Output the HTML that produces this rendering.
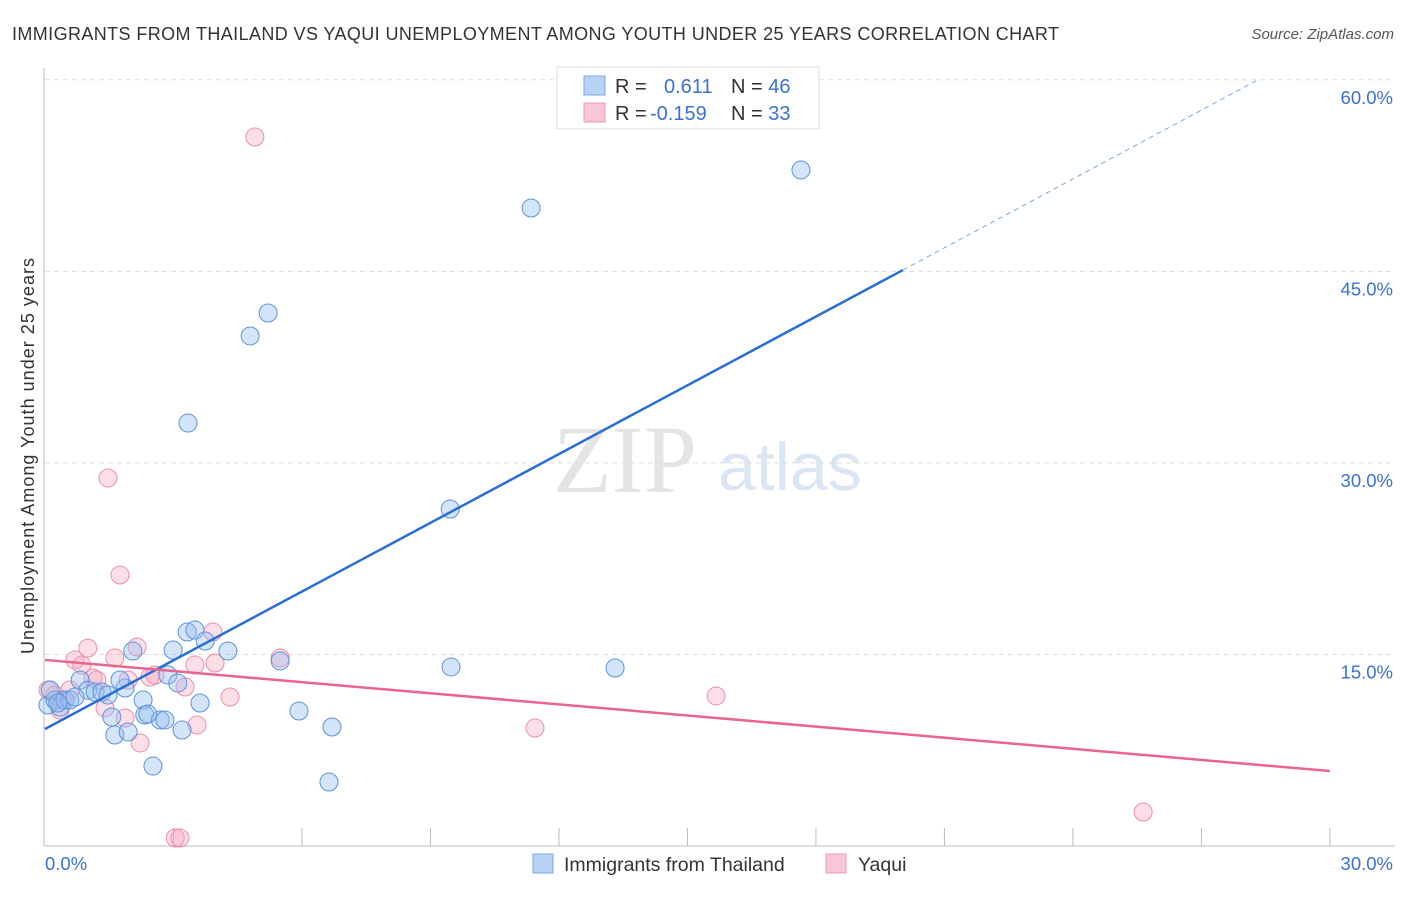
<!DOCTYPE html>
<html><head><meta charset="utf-8"><style>
body{margin:0;background:#fff;font-family:"Liberation Sans",sans-serif}
</style></head><body>
<svg id="c" width="1406" height="892" xmlns="http://www.w3.org/2000/svg">
<text x="12" y="40" font-size="18" fill="#333" textLength="1047">IMMIGRANTS FROM THAILAND VS YAQUI UNEMPLOYMENT AMONG YOUTH UNDER 25 YEARS CORRELATION CHART</text>
<text x="1394" y="39" font-size="15" fill="#555" font-style="italic" text-anchor="end">Source: ZipAtlas.com</text>
<text x="34" y="456" font-size="18" fill="#333" text-anchor="middle" textLength="396" transform="rotate(-90 34 456)">Unemployment Among Youth under 25 years</text>
<text x="553" y="492" font-size="96" fill="#e4e4e4" font-family="Liberation Serif,serif">ZIP</text>
<text x="718" y="490" font-size="68" fill="#dbe6f5">atlas</text>
<g id="grid"></g><g id="pts"></g><g id="lines"></g>
<g>
<rect x="557" y="67" width="262" height="62" fill="#fff" stroke="#ddd"/>
<rect x="584" y="76" width="21" height="19" fill="#b8d3f5" stroke="#7aa7e6"/>
<rect x="584" y="103" width="21" height="19" fill="#f8c6d4" stroke="#ee9ab3"/>
<text x="615" y="93" font-size="20" fill="#333">R = <tspan fill="#3a72d4" x="664">0.611</tspan><tspan fill="#333" x="731">N = </tspan><tspan fill="#3a72d4">46</tspan></text>
<text x="615" y="120" font-size="20" fill="#333">R = <tspan fill="#3a72d4" x="650">-0.159</tspan><tspan fill="#333" x="731">N = </tspan><tspan fill="#3a72d4">33</tspan></text>
</g>
<g>
<rect x="533" y="854" width="20" height="19" fill="#b8d3f5" stroke="#7aa7e6"/>
<text x="564" y="871" font-size="19.5" fill="#333">Immigrants from Thailand</text>
<rect x="826" y="854" width="20" height="19" fill="#f8c6d4" stroke="#ee9ab3"/>
<text x="858" y="871" font-size="19.5" fill="#333">Yaqui</text>
</g>
</svg>
<script>
const yTicks=[15,30,45,60];
const xTickLabels=["0.0%","30.0%"];
const blueX=[0.07,0.23,0.35,0.47,0.58,0.82,1.0,1.17,1.33,1.47,1.56,1.63,1.87,1.94,2.05,2.29,2.33,2.52,2.69,2.8,2.87,2.99,3.1,3.2,3.32,3.34,3.5,3.62,3.74,4.27,4.79,5.21,5.49,5.93,6.7,6.63,9.46,9.48,11.35,13.31,17.65,0.12,0.3,0.7,1.75,2.4];
const blueY=[11.04,11.43,10.88,11.43,11.43,13.0,12.2,12.06,12.06,11.82,10.1,8.69,12.37,8.93,15.27,11.43,10.26,6.26,9.87,9.87,13.39,15.35,12.76,9.08,16.76,33.12,16.91,11.2,16.05,15.27,39.94,41.74,14.49,10.57,9.32,5.01,26.39,14.02,49.96,13.94,52.94,12.22,11.2,11.67,13.0,10.34];
const pinkX=[0.07,0.23,0.4,0.7,0.86,1.0,1.12,1.21,1.4,1.47,1.63,1.75,1.87,1.94,2.15,2.22,2.45,2.57,3.04,3.15,3.27,3.55,3.5,3.92,3.97,4.32,4.9,5.49,11.44,15.67,25.64,0.35,0.58];
const pinkY=[12.22,11.82,11.43,14.57,14.17,15.5,13.16,13.0,10.81,28.82,14.72,21.22,10.02,13.0,15.58,8.07,13.23,13.39,0.63,0.63,12.45,9.48,14.17,16.76,14.33,11.67,55.52,14.72,9.24,11.75,2.66,10.65,12.22];
const blueLine=[[0,9.16],[20.03,45.1]];
const blueDash=[[20.03,45.1],[28.32,60]];
const pinkLine=[[0,14.57],[30,5.87]];
const NS="http://www.w3.org/2000/svg";
const sx=v=>45+v*42.83, sy=v=>846-v*12.77;
function mk(t,a,p){const e=document.createElementNS(NS,t);for(const k in a)e.setAttribute(k,a[k]);p.appendChild(e);return e;}
const g=document.getElementById('grid');
yTicks.forEach(t=>{
 const l=mk('line',{x1:45,x2:1395,y1:sy(t),y2:sy(t),stroke:'#ddd','stroke-dasharray':'5,4'},g);
 
 
 const tx=mk('text',{x:1393,y:sy(t)+24,'font-size':18.5,fill:'#3a72d4','text-anchor':'end'},g);tx.textContent=t.toFixed(1)+'%';
 
 
});
mk('line',{x1:44,x2:44,y1:68,y2:846,stroke:'#bbb'},g);
mk('line',{x1:44,x2:1395,y1:846,y2:846,stroke:'#bbb'},g);
for(let i=1;i<=10;i++){const t=mk('line',{x1:sx(i*3),x2:sx(i*3),y1:828,y2:846,stroke:'#bbb'},g);
 
 }
[[0,45,'start'],[30,1393,'end']].forEach((d,i)=>{const tx=mk('text',{x:d[1],y:870,'font-size':18.5,fill:'#3a72d4','text-anchor':d[2]},g);tx.textContent=xTickLabels[i];
 
 });
const p=document.getElementById('pts');
pinkX.forEach((x,i)=>{const c=mk('circle',{cx:sx(x),cy:sy(pinkY[i]),r:9,fill:'rgba(245,160,185,0.35)',stroke:'#eb8fac','stroke-width':1},p);
 
 });
blueX.forEach((x,i)=>{const c=mk('circle',{cx:sx(x),cy:sy(blueY[i]),r:9,fill:'rgba(150,190,240,0.4)',stroke:'#5b93de','stroke-width':1},p);
 
 });
const L=document.getElementById('lines');
function ln(s,col,w,dash,name){const a=mk('line',{x1:sx(s[0][0]),y1:sy(s[0][1]),x2:sx(s[1][0]),y2:sy(s[1][1]),stroke:col,'stroke-width':w},L);if(dash)a.setAttribute('stroke-dasharray',dash);
 
 }
ln(blueLine,'#2a6fd6',2.5,null,'thailand-trend-line');
ln(blueDash,'#7aa7e6',1,'5,4','thailand-trend-extension');
ln(pinkLine,'#e8658f',2.5,null,'yaqui-trend-line');
</script>
</body></html>
